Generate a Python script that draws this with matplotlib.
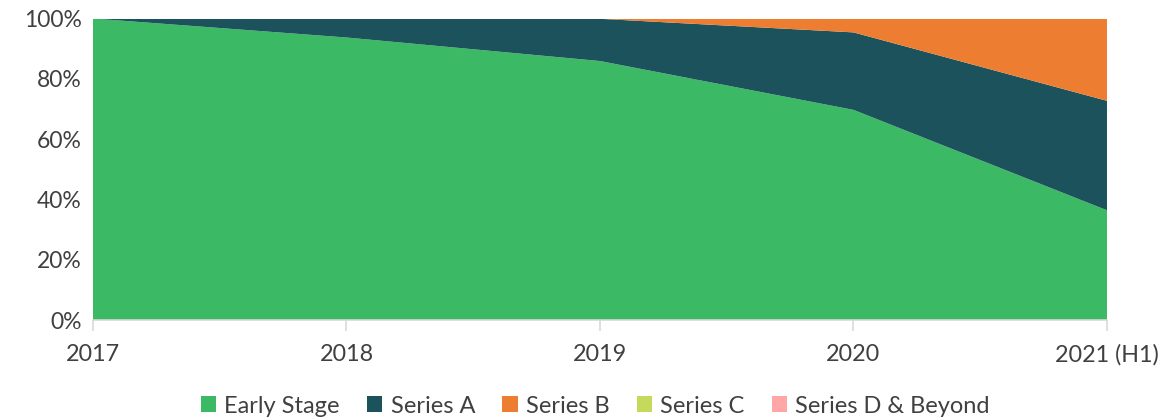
import matplotlib
matplotlib.use("Agg")
import matplotlib.pyplot as plt
from matplotlib.ticker import PercentFormatter
from matplotlib.patches import Patch

plt.rcParams['font.family'] = ['Lato', 'DejaVu Sans']

years = ['2017', '2018', '2019', '2020', '2021 (H1)']
early_stage = [100.0, 93.7, 85.9, 69.7, 36.4]
series_a = [0.0, 6.3, 14.0, 25.7, 36.3]
series_b = [0.0, 0.0, 0.1, 4.6, 27.3]
series_c = [0.0, 0.0, 0.0, 0.0, 0.0]
series_d = [0.0, 0.0, 0.0, 0.0, 0.0]

labels = ['Early Stage', 'Series A', 'Series B', 'Series C', 'Series D & Beyond']
colors = ['#3cb964', '#1b525c', '#ed7d31', '#c5d95b', '#ffa6a6']
text_color = '#404040'

fig = plt.figure(figsize=(11.65, 4.17), dpi=100)
ax = fig.add_axes([0.0798, 0.2326, 0.8704, 0.723])

x = list(range(len(years)))
ax.stackplot(x, early_stage, series_a, series_b, series_c, series_d,
             colors=colors, linewidth=0, zorder=2)

ax.set_xlim(0, len(years) - 1)
ax.set_ylim(0, 100)
ax.set_yticks([0, 20, 40, 60, 80, 100])
ax.yaxis.set_major_formatter(PercentFormatter(decimals=0))
ax.set_xticks(x)
ax.set_xticklabels(years)
ax.grid(axis='y', color='#d9d9d9', linewidth=1, zorder=0)

for s in ['top', 'right', 'left']:
    ax.spines[s].set_visible(False)
ax.spines['bottom'].set_color('#d9d9d9')
ax.spines['bottom'].set_linewidth(1.2)
ax.spines['bottom'].set_zorder(3)

ax.tick_params(axis='x', length=8, width=1.2, color='#d9d9d9',
               labelsize=16.8, labelcolor=text_color, pad=9)
ax.tick_params(axis='y', length=0, labelsize=16.5, labelcolor=text_color, pad=8)

handles = [Patch(facecolor=c, edgecolor='none') for c in colors]
fig.legend(handles, labels, loc='lower center', bbox_to_anchor=(0.511, -0.05),
           ncol=5, frameon=False, fontsize=17, labelcolor=text_color,
           handlelength=0.65, handleheight=0.65, handletextpad=0.35,
           columnspacing=1.15)

fig.savefig('out.png', dpi=100)
